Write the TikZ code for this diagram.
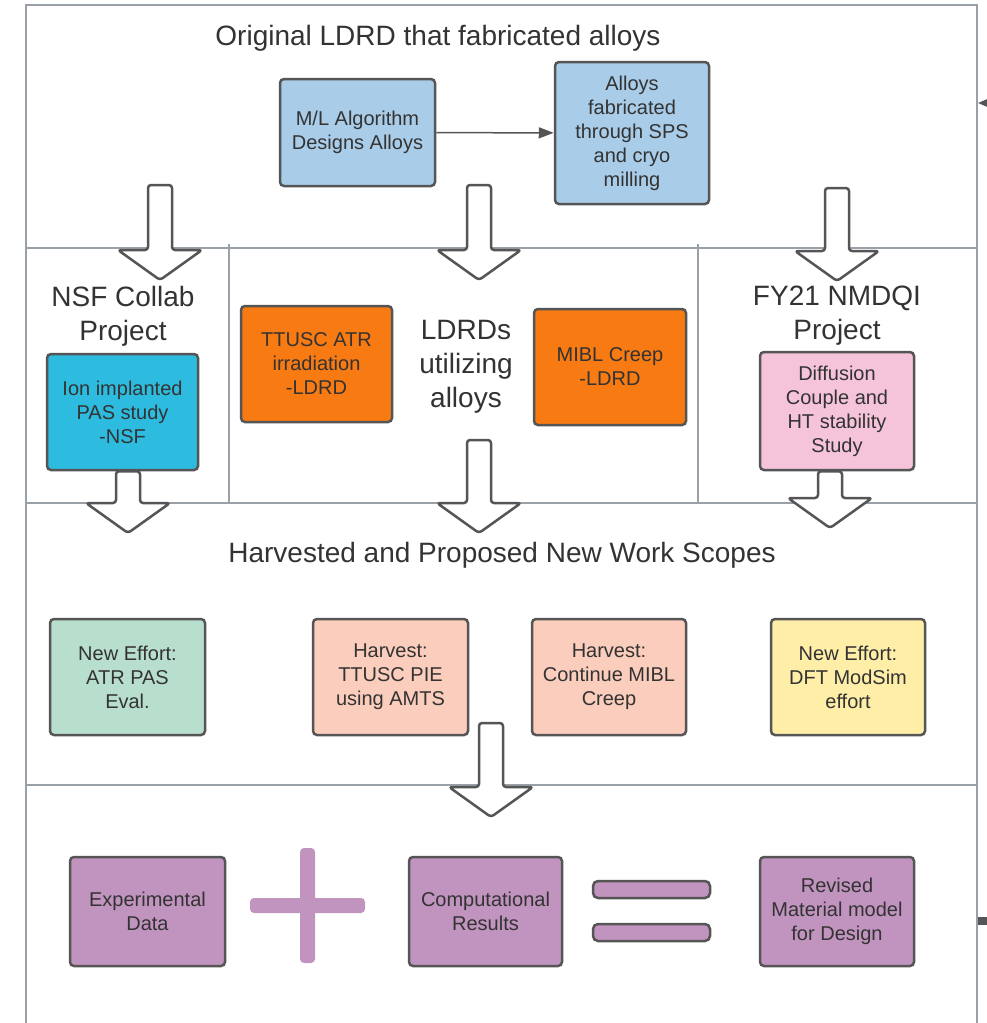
\documentclass[tikz,border=0pt]{standalone}
\usepackage{fontspec}
\setmainfont{Liberation Sans}
\usetikzlibrary{arrows.meta,calc}

\definecolor{txt}{HTML}{333333}
\definecolor{boxline}{HTML}{555555}
\definecolor{sepline}{HTML}{9AA0A8}
\definecolor{mlblue}{HTML}{A9CCE8}
\definecolor{nsfcyan}{HTML}{2DBBE0}
\definecolor{ldrdorange}{HTML}{F77A12}
\definecolor{nmdqipink}{HTML}{F5C3DA}
\definecolor{newmint}{HTML}{B8DFCE}
\definecolor{harvsalmon}{HTML}{FBCDBC}
\definecolor{newyellow}{HTML}{FFEEA8}
\definecolor{resultpurple}{HTML}{C193BF}

\tikzset{
    box/.style={draw=boxline, line width=2.5pt, rounded corners=4pt, align=center,
        text=txt, inner sep=0pt, font=\fontsize{20}{24}\selectfont},
    heading/.style={align=center, text=txt, font=\fontsize{28}{34}\selectfont},
    sep/.style={draw=sepline, line width=1.5pt},
    bigarrow/.style={draw=boxline, fill=white, line width=2.5pt, rounded corners=3pt, line join=round},
}

\newcommand{\blockarrow}[2]{%
    \draw[bigarrow] let \p1=(#1), \p2=(#2) in
        (\x2-12pt,\y1) -- (\x2+12pt,\y1) -- (\x2+12pt,\y2+30pt) -- (\x2+42pt,\y2+30pt)
        -- (\x2,\y2) -- (\x2-42pt,\y2+30pt) -- (\x2-12pt,\y2+30pt) -- cycle;}

\begin{document}
\begin{tikzpicture}[x=1pt, y=-1pt]
        \fill[white] (0,0) rectangle (987,1023);
        \useasboundingbox (0,0) rectangle (987,1023);

        \draw[sep] (26,1040) -- (26,5) -- (977,5) -- (977,1040);
        \draw[sep] (26,248) -- (977,248);
        \draw[sep] (26,503) -- (977,503);
        \draw[sep] (26,785) -- (977,785);
        \draw[sep] (229,244) -- (229,503);
        \draw[sep] (698,244) -- (698,503);

        \node[heading] (original) at (438,38) {Original LDRD that fabricated alloys};
        \node[box, fill=mlblue, minimum width=155pt, minimum height=107pt] (ml) at (357.5,132.5) {M/L Algorithm\\Designs Alloys};
        \node[box, fill=mlblue, minimum width=154pt, minimum height=142pt] (fab) at (632,133) {Alloys\\fabricated\\through SPS\\and cryo\\milling};
        \draw[draw=boxline, line width=1.5pt, -{Triangle[length=15pt,width=11pt]}] (ml) -- (fab);

        \node[heading] (nsf) at (123,316) {NSF Collab\\Project};
        \node[heading] (ldrds) at (466,367) {LDRDs\\utilizing\\alloys};
        \node[heading] (fy21) at (837,316) {FY21 NMDQI\\Project};
        \node[box, fill=nsfcyan, minimum width=151pt, minimum height=116pt] (ion) at (122.5,412) {Ion implanted\\PAS study\\-NSF};
        \node[box, fill=ldrdorange, minimum width=151pt, minimum height=116pt] (ttusc) at (316.5,364) {TTUSC ATR\\irradiation\\-LDRD};
        \node[box, fill=ldrdorange, minimum width=152pt, minimum height=116pt] (mibl) at (610,367) {MIBL Creep\\-LDRD};
        \node[box, fill=nmdqipink, minimum width=154pt, minimum height=118pt] (diff) at (837,411) {Diffusion\\Couple and\\HT stability\\Study};

        \node[heading] (harvested) at (502,555) {Harvested and Proposed New Work Scopes};
        \node[box, fill=newmint, minimum width=155pt, minimum height=116pt] (atrpas) at (127.5,677) {New Effort:\\ATR PAS\\Eval.};
        \node[box, fill=harvsalmon, minimum width=155pt, minimum height=116pt] (pie) at (390.5,677) {Harvest:\\TTUSC PIE\\using AMTS};
        \node[box, fill=harvsalmon, minimum width=154pt, minimum height=116pt] (creep) at (609,677) {Harvest:\\Continue MIBL\\Creep};
        \node[box, fill=newyellow, minimum width=154pt, minimum height=116pt] (dft) at (848,677) {New Effort:\\DFT ModSim\\effort};

        \node[box, fill=resultpurple, minimum width=155pt, minimum height=109pt] (expdata) at (147.5,911.5) {Experimental\\Data};
        \node[box, fill=resultpurple, minimum width=153pt, minimum height=109pt] (comp) at (485.5,911.5) {Computational\\Results};
        \node[box, fill=resultpurple, minimum width=154pt, minimum height=109pt] (revised) at (837,911.5) {Revised\\Material model\\for Design};
        \fill[resultpurple, rounded corners=4pt] (300,848) rectangle (315,963);
        \fill[resultpurple, rounded corners=4pt] (250,898) rectangle (365,913);
        \draw[fill=resultpurple, draw=boxline, line width=2.5pt, rounded corners=5pt] (593,881) rectangle (710,898);
        \draw[fill=resultpurple, draw=boxline, line width=2.5pt, rounded corners=5pt] (593,924) rectangle (710,941);

        \coordinate (nsfstart) at (160,185);
        \coordinate (nsftip) at (160,280);
        \coordinate (ldrdstart) at (479,185);
        \coordinate (ldrdtip) at (479,280);
        \coordinate (nmdqistart) at (837,188);
        \coordinate (nmdqitip) at (837,281);
        \coordinate (iontip) at (128,533);
        \coordinate (midstart) at (479,440);
        \coordinate (midtip) at (479,533);
        \coordinate (difftip) at (830,528);
        \coordinate (scopestart) at (491,723);
        \coordinate (scopetip) at (491,817);
        \blockarrow{nsfstart}{nsftip}
        \blockarrow{ldrdstart}{ldrdtip}
        \blockarrow{nmdqistart}{nmdqitip}
        \blockarrow{ion.south}{iontip}
        \blockarrow{midstart}{midtip}
        \blockarrow{diff.south}{difftip}
        \blockarrow{scopestart}{scopetip}

        \coordinate (offtop) at (1000,103);
        \coordinate (intop) at (978,103);
        \coordinate (offbottom) at (1000,921);
        \coordinate (inbottom) at (978,921);
        \draw[draw=boxline, line width=1.5pt, -{Triangle[length=11pt,width=9pt]}] (offtop) -- (intop);
        \draw[draw=boxline, line width=8pt] (offbottom) -- (inbottom);
\end{tikzpicture}
\end{document}
